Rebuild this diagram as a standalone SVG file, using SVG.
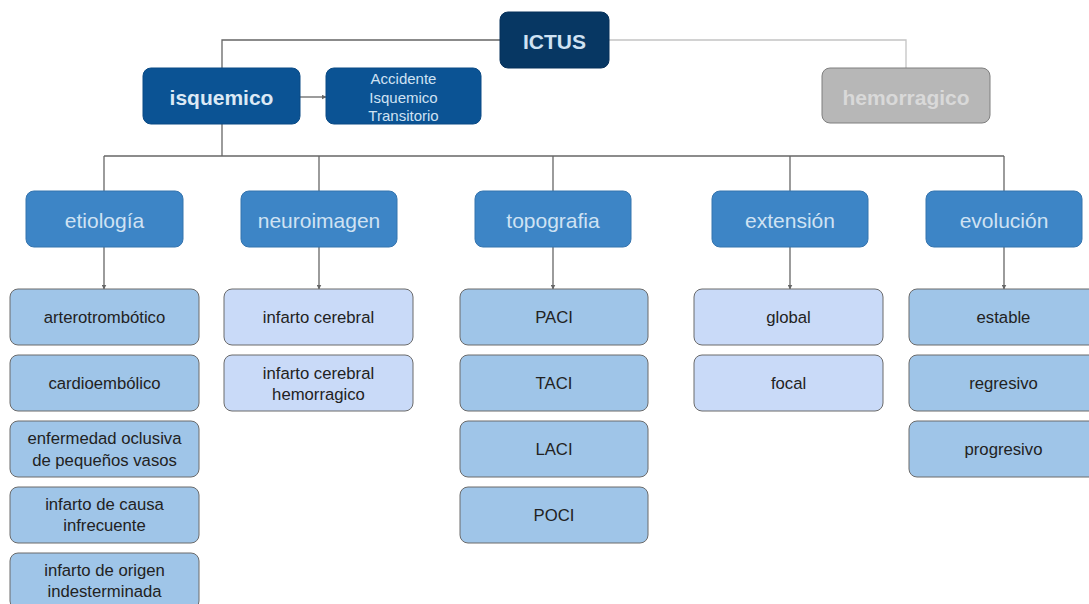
<svg xmlns="http://www.w3.org/2000/svg" width="1089" height="604" viewBox="0 0 1089 604">
  <style>
    text { font-family: "Liberation Sans", Arial, sans-serif; text-anchor: middle; dominant-baseline: central; }
    .root rect { fill: #073763; stroke: #06305a; stroke-width: 1; }
    .root text { fill: #cfe2f3; font-size: 21px; font-weight: bold; }
    .main rect { fill: #0b5394; stroke: #0a4a85; stroke-width: 1; }
    .main text { fill: #dce9f5; font-size: 21px; font-weight: bold; }
    .main.sub text { fill: #cfe2f3; font-size: 15px; font-weight: normal; }
    .grey rect { fill: #b7b7b7; stroke: #7f7f7f; stroke-width: 1; }
    .grey text { fill: #d9d9d9; font-size: 21px; font-weight: bold; }
    .cat rect { fill: #3d85c6; stroke: #3574ae; stroke-width: 1; }
    .cat text { fill: #cfe2f3; font-size: 21px; }
    .leaf rect { stroke: #6b6b6b; stroke-width: 1; }
    .leaf text { fill: #222222; font-size: 16.7px; }
    .l1 rect { fill: #9fc5e8; }
    .l2 rect { fill: #c9daf8; }
    .wire { fill: none; stroke: #666666; stroke-width: 1.3; }
    .wire-light { fill: none; stroke: #c4c4c4; stroke-width: 1.3; }
  </style>
  <defs>
    <marker id="arrow" viewBox="0 0 10 10" refX="9" refY="5" markerWidth="5" markerHeight="5" orient="auto" markerUnits="userSpaceOnUse">
      <path d="M0,0 L10,5 L0,10 z" fill="#666666"/>
    </marker>
  </defs>
  <rect width="1089" height="604" fill="#ffffff"/>

  <!-- connectors -->
  <g id="connectors">
    <path class="wire" d="M500,40 H222 V68"/>
    <path class="wire-light" d="M609,40 H906 V68"/>
    <path class="wire" d="M300,97 H326" marker-end="url(#arrow)"/>
    <path class="wire" d="M222,124 V156"/>
    <path class="wire" d="M104,156 H1004"/>
    <path class="wire" d="M104,156 V191"/>
    <path class="wire" d="M319,156 V191"/>
    <path class="wire" d="M553,156 V191"/>
    <path class="wire" d="M790,156 V191"/>
    <path class="wire" d="M1004,156 V191"/>
    <path class="wire" d="M104,247 V289" marker-end="url(#arrow)"/>
    <path class="wire" d="M319,247 V289" marker-end="url(#arrow)"/>
    <path class="wire" d="M553,247 V289" marker-end="url(#arrow)"/>
    <path class="wire" d="M790,247 V289" marker-end="url(#arrow)"/>
    <path class="wire" d="M1004,247 V289" marker-end="url(#arrow)"/>
  </g>

  <!-- top level -->
  <g id="ictus" class="root"><rect x="500" y="12" width="109" height="56" rx="8"/><text x="554.5" y="41">ICTUS</text></g>
  <g id="isquemico" class="main"><rect x="143" y="68" width="157" height="56" rx="8"/><text x="221.5" y="97">isquemico</text></g>
  <g id="ait" class="main sub"><rect x="326" y="68" width="155" height="56" rx="8"/>
    <text x="403.5" y="78">Accidente</text><text x="403.5" y="97">Isquemico</text><text x="403.5" y="115">Transitorio</text></g>
  <g id="hemorragico" class="grey"><rect x="822" y="68" width="168" height="55" rx="8"/><text x="906" y="97">hemorragico</text></g>

  <!-- categories -->
  <g id="etiologia" class="cat"><rect x="26" y="191" width="157" height="56" rx="8"/><text x="104.5" y="220">etiología</text></g>
  <g id="neuroimagen" class="cat"><rect x="241" y="191" width="156" height="56" rx="8"/><text x="319" y="220">neuroimagen</text></g>
  <g id="topografia" class="cat"><rect x="475" y="191" width="156" height="56" rx="8"/><text x="553" y="220">topografia</text></g>
  <g id="extension" class="cat"><rect x="712" y="191" width="156" height="56" rx="8"/><text x="790" y="220">extensión</text></g>
  <g id="evolucion" class="cat"><rect x="926" y="191" width="156" height="56" rx="8"/><text x="1004" y="220">evolución</text></g>

  <!-- etiología leaves -->
  <g id="arterotrombotico" class="leaf l1"><rect x="10" y="289" width="189" height="56" rx="8"/><text x="104.5" y="317">arterotrombótico</text></g>
  <g id="cardioembolico" class="leaf l1"><rect x="10" y="355" width="189" height="56" rx="8"/><text x="104.5" y="383">cardioembólico</text></g>
  <g id="oclusiva" class="leaf l1"><rect x="10" y="421" width="189" height="56" rx="8"/><text x="104.5" y="438">enfermedad oclusiva</text><text x="104.5" y="460">de pequeños vasos</text></g>
  <g id="infrecuente" class="leaf l1"><rect x="10" y="487" width="189" height="56" rx="8"/><text x="104.5" y="504">infarto de causa</text><text x="104.5" y="525">infrecuente</text></g>
  <g id="indeterminada" class="leaf l1"><rect x="10" y="553" width="189" height="56" rx="8"/><text x="104.5" y="570">infarto de origen</text><text x="104.5" y="591">indesterminada</text></g>

  <!-- neuroimagen leaves -->
  <g id="infarto-cerebral" class="leaf l2"><rect x="224" y="289" width="189" height="56" rx="8"/><text x="318.5" y="317">infarto cerebral</text></g>
  <g id="infarto-hemorragico" class="leaf l2"><rect x="224" y="355" width="189" height="56" rx="8"/><text x="318.5" y="373">infarto cerebral</text><text x="318.5" y="394">hemorragico</text></g>

  <!-- topografia leaves -->
  <g id="paci" class="leaf l1"><rect x="460" y="289" width="188" height="56" rx="8"/><text x="554" y="317">PACI</text></g>
  <g id="taci" class="leaf l1"><rect x="460" y="355" width="188" height="56" rx="8"/><text x="554" y="383">TACI</text></g>
  <g id="laci" class="leaf l1"><rect x="460" y="421" width="188" height="56" rx="8"/><text x="554" y="449">LACI</text></g>
  <g id="poci" class="leaf l1"><rect x="460" y="487" width="188" height="56" rx="8"/><text x="554" y="515">POCI</text></g>

  <!-- extensión leaves -->
  <g id="global" class="leaf l2"><rect x="694" y="289" width="189" height="56" rx="8"/><text x="788.5" y="317">global</text></g>
  <g id="focal" class="leaf l2"><rect x="694" y="355" width="189" height="56" rx="8"/><text x="788.5" y="383">focal</text></g>

  <!-- evolución leaves -->
  <g id="estable" class="leaf l1"><rect x="909" y="289" width="189" height="56" rx="8"/><text x="1003.5" y="317">estable</text></g>
  <g id="regresivo" class="leaf l1"><rect x="909" y="355" width="189" height="56" rx="8"/><text x="1003.5" y="383">regresivo</text></g>
  <g id="progresivo" class="leaf l1"><rect x="909" y="421" width="189" height="56" rx="8"/><text x="1003.5" y="449">progresivo</text></g>
</svg>
